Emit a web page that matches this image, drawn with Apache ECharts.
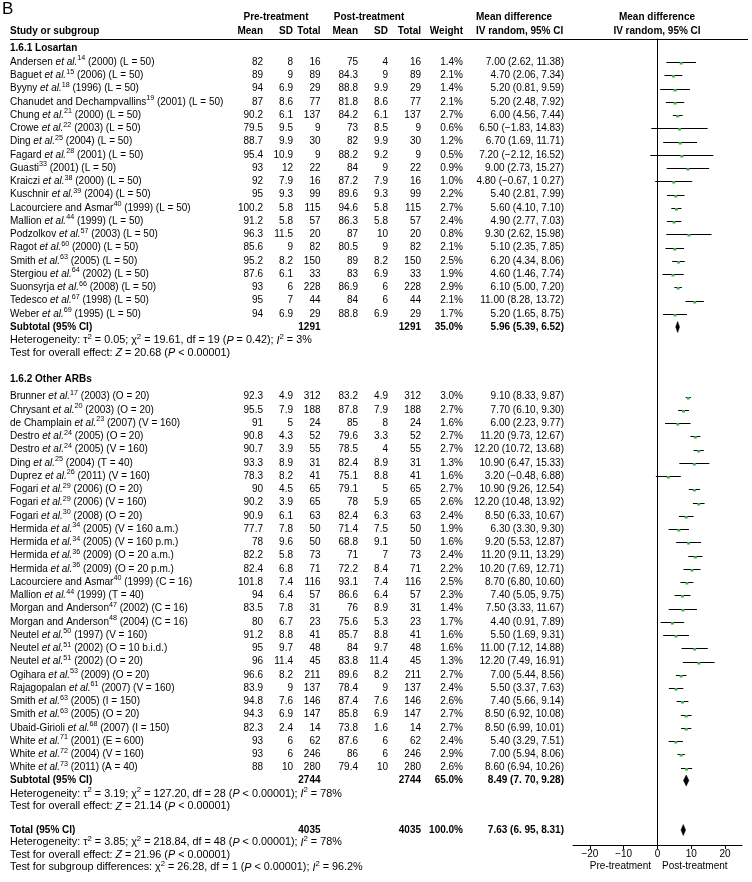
<!DOCTYPE html>
<html><head><meta charset="utf-8">
<script src="https://cdn.jsdelivr.net/npm/echarts@6/dist/echarts.min.js"></script>
<style>html,body{margin:0;padding:0;background:#fff}#c{width:752px;height:882px}</style>
</head><body><div id="c"></div>
<script>
// ---------------- DATA ----------------
const losStudies = [
 'Andersen et al.^14 (2000) (L = 50)','Baguet et al.^15 (2006) (L = 50)','Byyny et al.^18 (1996) (L = 50)',
 'Chanudet and Dechampvallins^19 (2001) (L = 50)','Chung et al.^21 (2000) (L = 50)','Crowe et al.^22 (2003) (L = 50)',
 'Ding et al.^25 (2004) (L = 50)','Fagard et al.^28 (2001) (L = 50)','Guasti^33 (2001) (L = 50)',
 'Kraiczi et al.^38 (2000) (L = 50)','Kuschnir et al.^39 (2004) (L = 50)','Lacourciere and Asmar^40 (1999) (L = 50)',
 'Mallion et al.^44 (1999) (L = 50)','Podzolkov et al.^57 (2003) (L = 50)','Ragot et al.^60 (2000) (L = 50)',
 'Smith et al.^63 (2005) (L = 50)','Stergiou et al.^64 (2002) (L = 50)','Suonsyrja et al.^66 (2008) (L = 50)',
 'Tedesco et al.^67 (1998) (L = 50)','Weber et al.^69 (1995) (L = 50)'];
const losPreMean = [82,89,94,87,90.2,79.5,88.7,95.4,93,92,95,100.2,91.2,96.3,85.6,95.2,87.6,93,95,94];
const losPreSD = [8,9,6.9,8.6,6.1,9.5,9.9,10.9,12,7.9,9.3,5.8,5.8,11.5,9,8.2,6.1,6,7,6.9];
const losN = [16,89,29,77,137,9,30,9,22,16,99,115,57,20,82,150,33,228,44,29];
const losPostMean = [75,84.3,88.8,81.8,84.2,73,82,88.2,84,87.2,89.6,94.6,86.3,87,80.5,89,83,86.9,84,88.8];
const losPostSD = [4,9,9.9,8.6,6.1,8.5,9.9,9.2,9,7.9,9.3,5.8,5.8,10,9,8.2,6.9,6,6,6.9];
const losWeight = [1.4,2.1,1.4,2.1,2.7,0.6,1.2,0.5,0.9,1.0,2.2,2.7,2.4,0.8,2.1,2.5,1.9,2.9,2.1,1.7];
const losMD = [7.00,4.70,5.20,5.20,6.00,6.50,6.70,7.20,9.00,4.80,5.40,5.60,4.90,9.30,5.10,6.20,4.60,6.10,11.00,5.20];
const losLo = [2.62,2.06,0.81,2.48,4.56,-1.83,1.69,-2.12,2.73,-0.67,2.81,4.10,2.77,2.62,2.35,4.34,1.46,5.00,8.28,1.65];
const losHi = [11.38,7.34,9.59,7.92,7.44,14.83,11.71,16.52,15.27,10.27,7.99,7.10,7.03,15.98,7.85,8.06,7.74,7.20,13.72,8.75];

const othStudies = [
 'Brunner et al.^17 (2003) (O = 20)','Chrysant et al.^20 (2003) (O = 20)','de Champlain et al.^23 (2007) (V = 160)',
 'Destro et al.^24 (2005) (O = 20)','Destro et al.^24 (2005) (V = 160)','Ding et al.^25 (2004) (T = 40)',
 'Duprez et al.^26 (2011) (V = 160)','Fogari et al.^29 (2006) (O = 20)','Fogari et al.^29 (2006) (V = 160)',
 'Fogari et al.^30 (2008) (O = 20)','Hermida et al.^34 (2005) (V = 160 a.m.)','Hermida et al.^34 (2005) (V = 160 p.m.)',
 'Hermida et al.^36 (2009) (O = 20 a.m.)','Hermida et al.^36 (2009) (O = 20 p.m.)','Lacourciere and Asmar^40 (1999) (C = 16)',
 'Mallion et al.^44 (1999) (T = 40)','Morgan and Anderson^47 (2002) (C = 16)','Morgan and Anderson^48 (2004) (C = 16)',
 'Neutel et al.^50 (1997) (V = 160)','Neutel et al.^51 (2002) (O = 10 b.i.d.)','Neutel et al.^51 (2002) (O = 20)',
 'Ogihara et al.^53 (2009) (O = 20)','Rajagopalan et al.^61 (2007) (V = 160)','Smith et al.^63 (2005) (I = 150)',
 'Smith et al.^63 (2005) (O = 20)','Ubaid-Girioli et al.^68 (2007) (I = 150)','White et al.^71 (2001) (E = 600)',
 'White et al.^72 (2004) (V = 160)','White et al.^73 (2011) (A = 40)'];
const othPreMean = [92.3,95.5,91,90.8,90.7,93.3,78.3,90,90.2,90.9,77.7,78,82.2,82.4,101.8,94,83.5,80,91.2,95,96,96.6,83.9,94.8,94.3,82.3,93,93,88];
const othPreSD = [4.9,7.9,5,4.3,3.9,8.9,8.2,4.5,3.9,6.1,7.8,9.6,5.8,6.8,7.4,6.4,7.8,6.7,8.8,9.7,11.4,8.2,9,7.6,6.9,2.4,6,6,10];
const othN = [312,188,24,52,55,31,41,65,65,63,50,50,73,71,116,57,31,23,41,48,45,211,137,146,147,14,62,246,280];
const othPostMean = [83.2,87.8,85,79.6,78.5,82.4,75.1,79.1,78,82.4,71.4,68.8,71,72.2,93.1,86.6,76,75.6,85.7,84,83.8,89.6,78.4,87.4,85.8,73.8,87.6,86,79.4];
const othPostSD = [4.9,7.9,8,3.3,4,8.9,8.8,5,5.9,6.3,7.5,9.1,7,8.4,7.4,6.4,8.9,5.3,8.8,9.7,11.4,8.2,9,7.6,6.9,1.6,6,6,10];
const othWeight = [3.0,2.7,1.6,2.7,2.7,1.3,1.6,2.7,2.6,2.4,1.9,1.6,2.4,2.2,2.5,2.3,1.4,1.7,1.6,1.6,1.3,2.7,2.4,2.6,2.7,2.7,2.4,2.9,2.6];
const othMD = [9.10,7.70,6.00,11.20,12.20,10.90,3.20,10.90,12.20,8.50,6.30,9.20,11.20,10.20,8.70,7.40,7.50,4.40,5.50,11.00,12.20,7.00,5.50,7.40,8.50,8.50,5.40,7.00,8.60];
const othLo = [8.33,6.10,2.23,9.73,10.72,6.47,-0.48,9.26,10.48,6.33,3.30,5.53,9.11,7.69,6.80,5.05,3.33,0.91,1.69,7.12,7.49,5.44,3.37,5.66,6.92,6.99,3.29,5.94,6.94];
const othHi = [9.87,9.30,9.77,12.67,13.68,15.33,6.88,12.54,13.92,10.67,9.30,12.87,13.29,12.71,10.60,9.75,11.67,7.89,9.31,14.88,16.91,8.56,7.63,9.14,10.08,10.01,7.51,8.06,10.26];

// pooled estimates: [Losartan subtotal, Other ARBs subtotal, Total]
const pooledLabel = ['Subtotal (95% CI)','Subtotal (95% CI)','Total (95% CI)'];
const pooledN = [1291, 2744, 4035];
const pooledWeight = [35.0, 65.0, 100.0];
const pooledMD = [5.96, 8.49, 7.63];
const pooledLo = [5.39, 7.70, 6.95];
const pooledHi = [6.52, 9.28, 8.31];
const hetTau2 = ['0.05','3.19','3.85'];
const hetChi2 = ['19.61','127.20','218.84'];
const hetDf = [19, 28, 48];
const hetP = ['= 0.42','< 0.00001','< 0.00001'];
const hetI2 = ['3%','78%','78%'];
const effZ = ['20.68','21.14','21.96'];
const effP = ['< 0.00001','< 0.00001','< 0.00001'];
const subgroupTest = {chi2:'26.28', df:1, p:'< 0.00001', i2:'96.2%'};
const groupNames = ['1.6.1 Losartan','1.6.2 Other ARBs'];
const axisTicks = [-20,-10,0,10,20];
const axisSideLabels = ['Pre-treatment','Post-treatment'];
// CI strings exactly as printed in the source where they differ from plain formatting
const printedCI = {'los-9': '4.80 (\u22120.67, 1 0.27)', 'pool-1': '8.49 (7. 70, 9.28)', 'pool-2': '7.63 (6. 95, 8.31)'};

// ---------------- LAYOUT ----------------
const FONT = '"Liberation Sans", Arial, Helvetica, sans-serif';
const W = 752, H = 882;
const COL = {name:10, preMean:263, preSD:293, preN:320.5, postMean:358, postSD:388, postN:421, weight:463, ci:564};
const ROW = 13.25;
const yLos0 = 62, yOth0 = 396.5;
const ySub = [327, 780.5, 830];
const yHet = [340.5, 794, 842.5];
const yEff = [353, 806.5, 855];
const ySubgroupTest = 867.5;
const yGroup = [48, 379];
const FOREST = {left:573, right:742, top:39, bottom:845};
const FOOT = 10.8;

const fmt2 = v => (v < 0 ? '\u2212' : '') + Math.abs(v).toFixed(2);
const ciTxt = (m,l,h) => fmt2(m) + ' (' + fmt2(l) + ', ' + fmt2(h) + ')';
const nameRich = s => s.replace('et al.', '{i|et al.}').replace(/\^(\d+)/, '{s|$1}');

const texts = [];
function T(x, y, text, align, bold, size) { texts.push({x, y, text: String(text), align: align || 'left', bold: !!bold, size: size || 10}); }

T(2, 9, 'B', 'left', false, 17);
T(276, 17, 'Pre-treatment', 'center', true);
T(369, 17, 'Post-treatment', 'center', true);
T(476, 17, 'Mean difference', 'left', true);
T(657, 17, 'Mean difference', 'center', true);
T(COL.name, 31, 'Study or subgroup', 'left', true);
T(COL.preMean, 31, 'Mean', 'right', true);
T(COL.preSD, 31, 'SD', 'right', true);
T(COL.preN, 31, 'Total', 'right', true);
T(COL.postMean, 31, 'Mean', 'right', true);
T(COL.postSD, 31, 'SD', 'right', true);
T(COL.postN, 31, 'Total', 'right', true);
T(COL.weight, 31, 'Weight', 'right', true);
T(476, 31, 'IV random, 95% CI', 'left', true);
T(657, 31, 'IV random, 95% CI', 'center', true);

const forestData = [];
function addGroup(g, key, y0, names, pm, psd, n, qm, qsd, w, md, lo, hi) {
  T(COL.name, yGroup[g], groupNames[g], 'left', true);
  names.forEach((s, i) => {
    const y = y0 + ROW * i;
    T(COL.name, y, nameRich(s));
    T(COL.preMean, y, pm[i], 'right');
    T(COL.preSD, y, psd[i], 'right');
    T(COL.preN, y, n[i], 'right');
    T(COL.postMean, y, qm[i], 'right');
    T(COL.postSD, y, qsd[i], 'right');
    T(COL.postN, y, n[i], 'right');
    T(COL.weight, y, w[i].toFixed(1) + '%', 'right');
    T(COL.ci, y, printedCI[key + '-' + i] || ciTxt(md[i], lo[i], hi[i]), 'right');
    forestData.push([md[i], lo[i], hi[i], y, w[i]]);
  });
}
addGroup(0, 'los', yLos0, losStudies, losPreMean, losPreSD, losN, losPostMean, losPostSD, losWeight, losMD, losLo, losHi);
addGroup(1, 'oth', yOth0, othStudies, othPreMean, othPreSD, othN, othPostMean, othPostSD, othWeight, othMD, othLo, othHi);

const diamondData = [];
for (let k = 0; k < 3; k++) {
  T(COL.name, ySub[k], pooledLabel[k], 'left', true);
  T(COL.preN, ySub[k], pooledN[k], 'right', true);
  T(COL.postN, ySub[k], pooledN[k], 'right', true);
  T(COL.weight, ySub[k], pooledWeight[k].toFixed(1) + '%', 'right', true);
  T(COL.ci, ySub[k], printedCI['pool-' + k] || ciTxt(pooledMD[k], pooledLo[k], pooledHi[k]), 'right', true);
  T(COL.name, yHet[k], 'Heterogeneity: \u03c4{s|2} = ' + hetTau2[k] + '; \u03c7{s|2} = ' + hetChi2[k] + ', df = ' + hetDf[k] + ' ({i|P} ' + hetP[k] + '); {i|I}{s|2} = ' + hetI2[k], 'left', false, FOOT);
  T(COL.name, yEff[k], 'Test for overall effect: {i|Z} = ' + effZ[k] + ' ({i|P} ' + effP[k] + ')', 'left', false, FOOT);
  diamondData.push([pooledMD[k], pooledLo[k], pooledHi[k], ySub[k]]);
}
T(COL.name, ySubgroupTest, 'Test for subgroup differences: \u03c7{s|2} = ' + subgroupTest.chi2 + ', df = ' + subgroupTest.df + ' ({i|P} ' + subgroupTest.p + '); {i|I}{s|2} = ' + subgroupTest.i2, 'left', false, FOOT);
T(651, 866.5, axisSideLabels[0], 'right');
T(662, 866.5, axisSideLabels[1], 'left');

function richFor(size) {
  return {
    i: {fontSize: size, fontFamily: FONT, fontStyle: 'italic', fill: '#000'},
    s: {fontSize: Math.round(size * 0.72 * 10) / 10, fontFamily: FONT, fill: '#000', padding: [0, 0, Math.round(size * 0.7), 0]}
  };
}

const chart = echarts.init(document.getElementById('c'), null, {renderer: 'canvas'});
chart.setOption({
  animation: false,
  backgroundColor: '#fff',
  grid: [
    {left: 0, top: 0, width: W, height: H},
    {left: FOREST.left, top: FOREST.top, width: FOREST.right - FOREST.left, height: FOREST.bottom - FOREST.top}
  ],
  xAxis: [
    {gridIndex: 0, type: 'value', min: 0, max: W, show: false},
    {gridIndex: 1, type: 'value', min: -25, max: 25,
     axisLine: {show: true, onZero: false, lineStyle: {color: '#000', width: 1}},
     axisTick: {show: true, customValues: axisTicks, length: 4, lineStyle: {color: '#000', width: 1}},
     axisLabel: {show: true, customValues: axisTicks, color: '#000', fontSize: 10, fontFamily: FONT, margin: 4,
       formatter: v => (v < 0 ? '\u2212' + (-v) : String(v))},
     splitLine: {show: false}}
  ],
  yAxis: [
    {gridIndex: 0, type: 'value', min: 0, max: H, inverse: true, show: false},
    {gridIndex: 1, type: 'value', min: FOREST.top, max: FOREST.bottom, inverse: true,
     axisLine: {show: true, onZero: true, lineStyle: {color: '#000', width: 1}},
     axisTick: {show: false}, axisLabel: {show: false}, splitLine: {show: false}}
  ],
  series: [
    {type: 'custom', xAxisIndex: 0, yAxisIndex: 0, silent: true,
     data: [[10, 39, 748]],
     renderItem: (p, api) => {
       const a = api.coord([api.value(0), api.value(1)]), b = api.coord([api.value(2), api.value(1)]);
       return {type: 'line', shape: {x1: a[0], y1: Math.round(a[1]) + 0.5, x2: b[0], y2: Math.round(a[1]) + 0.5}, style: {stroke: '#000', lineWidth: 1}};
     }},
    {type: 'custom', xAxisIndex: 0, yAxisIndex: 0, silent: true,
     data: texts.map(t => [t.x, t.y]),
     renderItem: (p, api) => {
       const t = texts[p.dataIndex];
       const c = api.coord([api.value(0), api.value(1)]);
       return {type: 'text', x: c[0], y: c[1], style: {
         text: t.text, fill: '#000', fontSize: t.size, fontFamily: FONT,
         fontWeight: t.bold ? 'bold' : 'normal', align: t.align, verticalAlign: 'middle', rich: richFor(t.size)}};
     }},
    {type: 'custom', xAxisIndex: 1, yAxisIndex: 1, silent: true, clip: false,
     data: forestData, encode: {x: [0, 1, 2], y: 3},
     renderItem: (p, api) => {
       const m = api.coord([api.value(0), api.value(3)]);
       const l = api.coord([api.value(1), api.value(3)]);
       const h = api.coord([api.value(2), api.value(3)]);
       const yy = Math.round(m[1]) + 0.5;
       return {type: 'group', children: [
         {type: 'line', shape: {x1: l[0], y1: yy, x2: h[0], y2: yy}, style: {stroke: '#000', lineWidth: 1}},
         {type: 'rect', shape: {x: m[0] - 1.5, y: yy - 0.5, width: 3, height: 2.5}, style: {fill: '#3cae4a'}}
       ]};
     }},
    {type: 'custom', xAxisIndex: 1, yAxisIndex: 1, silent: true, clip: false,
     data: diamondData, encode: {x: [0, 1, 2], y: 3},
     renderItem: (p, api) => {
       const m = api.coord([api.value(0), api.value(3)]);
       const l = api.coord([api.value(1), api.value(3)]);
       const h = api.coord([api.value(2), api.value(3)]);
       return {type: 'polygon', shape: {points: [[l[0], m[1]], [m[0], m[1] - 5.5], [h[0], m[1]], [m[0], m[1] + 5.5]]},
         style: {fill: '#000', stroke: '#000', lineWidth: 0.5}};
     }}
  ]
});
</script>
</body></html>
